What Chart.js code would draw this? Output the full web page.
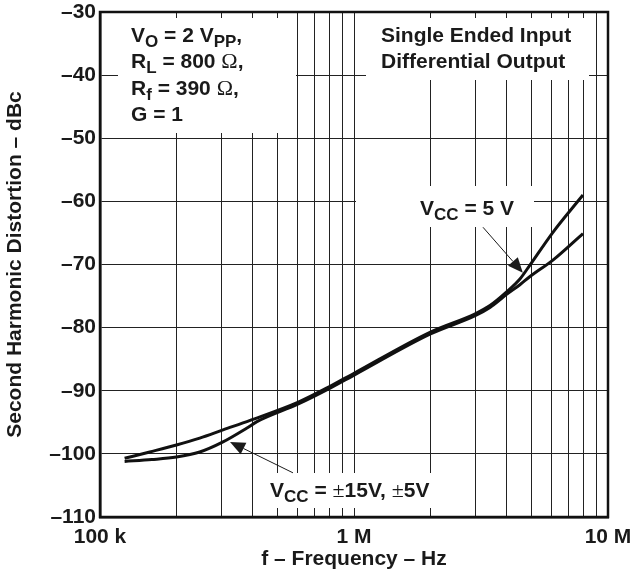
<!DOCTYPE html>
<html>
<head>
<meta charset="utf-8">
<script src="https://cdn.jsdelivr.net/npm/chart.js@4/dist/chart.umd.min.js"></script>
<style>
body{ margin:0; background:#fff; }
#wrap{ width:635px; height:573px; }
</style>
</head>
<body>
<div id="wrap"><canvas id="chart" width="635" height="573"></canvas></div>
<script>

/* DATA */

// VCC = 5 V (upper at low frequency, steeper at the top end)
const freq5 = [125e3, 157e3, 200e3, 247e3, 305e3, 390e3, 604e3, 805e3, 993e3, 2.0e6, 3.0e6, 3.43e6, 4.0e6, 4.5e6, 4.85e6, 6.07e6, 7.97e6];
const db5   = [-100.7, -99.7, -98.6, -97.5, -96.2, -94.7, -91.8, -89.3, -87.3, -80.7, -77.8, -76.5, -74.3, -72.3, -70.5, -64.9, -59.0];

// VCC = ±15 V, ±5 V
const freq15 = [125e3, 160e3, 200e3, 247e3, 305e3, 379e3, 415e3, 604e3, 805e3, 993e3, 2.0e6, 3.0e6, 3.43e6, 4.0e6, 4.5e6, 4.93e6, 6.07e6, 7.97e6];
const db15   = [-101.2, -100.9, -100.5, -99.7, -98.1, -95.9, -94.9, -92.1, -89.6, -87.6, -81.0, -78.1, -76.8, -74.7, -73.2, -71.9, -69.3, -65.1];

// axes
const xGrid = [1e5,2e5,3e5,4e5,5e5,6e5,7e5,8e5,9e5,1e6,2e6,3e6,4e6,5e6,6e6,7e6,8e6,9e6,1e7];
const xMajor = [1e5, 1e6, 1e7];
const xTickLabels = ['100 k', '1 M', '10 M'];
const yMin = -110, yMax = -30, yStep = 10;

/* ANNOTATIONS */

const FONT = '"Liberation Sans", Arial, sans-serif';

const boxes = [
    [118, 18, 178, 115],
    [366, 18, 223, 62],
    [356, 186, 178, 41],
    [262, 473, 183, 35]
];

const notes = [
    { x:131, y:41.5, parts:[['V'],['O','s'],[' = 2 V'],['PP','s'],[',']] },
    { x:131, y:68,   parts:[['R'],['L','s'],[' = 800 '],['\u03A9','g'],[',']] },
    { x:131, y:95,   parts:[['R'],['f','s'],[' = 390 '],['\u03A9','g'],[',']] },
    { x:131, y:121,  parts:[['G = 1']] },
    { x:381, y:42,   parts:[['Single Ended Input']] },
    { x:381, y:68,   parts:[['Differential Output']] },
    { x:420, y:215,  parts:[['V'],['CC','s'],[' = 5 V']] },
    { x:270, y:497,  parts:[['V'],['CC','s'],[' = '],['\u00B1','g'],['15V, '],['\u00B1','g'],['5V']] }
];

// arrows in data units: [tailF, tailDb, tipF, tipDb]
const arrows = [
    [3.22e6, -64.1, 4.62e6, -71.3],
    [575e3, -103.0, 325e3, -98.1]
];

function drawRich(ctx, x, y, parts){
    parts.forEach(p => {
        let font = 'bold 21px ' + FONT;
        let dy = 0;
        if(p[1] === 's'){ font = 'bold 17px ' + FONT; dy = 5; }
        if(p[1] === 'g'){ font = '22px "Liberation Serif", serif'; }
        ctx.font = font;
        ctx.fillText(p[0], x, y + dy);
        x += ctx.measureText(p[0]).width;
    });
}

const annotPlugin = {
    id: 'annot',
    beforeDatasetsDraw(chart){
        const ctx = chart.ctx;
        const a = chart.chartArea;
        const xs = chart.scales.x, ys = chart.scales.y;
        ctx.save();

        // frame
        ctx.strokeStyle = '#111';
        ctx.lineWidth = 2.5;
        ctx.strokeRect(a.left, a.top, a.right - a.left, a.bottom - a.top);

        // white label boxes
        ctx.fillStyle = '#fff';
        boxes.forEach(b => ctx.fillRect(b[0], b[1], b[2], b[3]));

        // text
        ctx.fillStyle = '#1a1a1a';
        ctx.textAlign = 'left';
        ctx.textBaseline = 'alphabetic';
        notes.forEach(n => drawRich(ctx, n.x, n.y, n.parts));

        // arrows
        arrows.forEach(ar => {
            const x0 = xs.getPixelForValue(ar[0]), y0 = ys.getPixelForValue(ar[1]);
            const x1 = xs.getPixelForValue(ar[2]), y1 = ys.getPixelForValue(ar[3]);
            const ang = Math.atan2(y1 - y0, x1 - x0);
            const len = 15, hw = 6.5;
            const bx = x1 - len * Math.cos(ang), by = y1 - len * Math.sin(ang);
            ctx.strokeStyle = '#1a1a1a';
            ctx.lineWidth = 1;
            ctx.beginPath();
            ctx.moveTo(x0, y0);
            ctx.lineTo(bx, by);
            ctx.stroke();
            ctx.beginPath();
            ctx.moveTo(x1, y1);
            ctx.lineTo(bx + hw * Math.sin(ang), by - hw * Math.cos(ang));
            ctx.lineTo(bx - hw * Math.sin(ang), by + hw * Math.cos(ang));
            ctx.closePath();
            ctx.fill();
        });

        ctx.restore();
    }
};

/* CHART */

Chart.defaults.font.family = FONT;
Chart.defaults.font.size = 21;
Chart.defaults.font.weight = 'bold';
Chart.defaults.color = '#1a1a1a';

const toPoints = (xs, ys) => xs.map((f, i) => ({ x: f, y: ys[i] }));

new Chart(document.getElementById('chart'), {
    type: 'line',
    data: {
        datasets: [
            {
                label: 'VCC = 5 V',
                data: toPoints(freq5, db5),
                borderColor: '#111',
                borderWidth: 3,
                pointRadius: 0,
                cubicInterpolationMode: 'monotone',
                fill: false
            },
            {
                label: 'VCC = \u00B115V, \u00B15V',
                data: toPoints(freq15, db15),
                borderColor: '#111',
                borderWidth: 3,
                pointRadius: 0,
                cubicInterpolationMode: 'monotone',
                fill: false
            }
        ]
    },
    options: {
        responsive: false,
        animation: false,
        layout: { padding: { top: 12, right: 27, left: 0, bottom: 0 } },
        plugins: {
            legend: { display: false },
            tooltip: { enabled: false }
        },
        scales: {
            x: {
                type: 'logarithmic',
                min: 1e5,
                max: 1e7,
                afterBuildTicks: axis => {
                    axis.ticks = xGrid.map(v => ({ value: v }));
                },
                afterFit: axis => {
                    axis.height = 56;
                    axis.paddingLeft = 0;
                    axis.paddingRight = 0;
                },
                ticks: {
                    autoSkip: false,
                    maxRotation: 0,
                    padding: 8,
                    callback: v => {
                        const i = xMajor.indexOf(v);
                        return i >= 0 ? xTickLabels[i] : '';
                    }
                },
                grid: { color: '#222', lineWidth: 1, drawTicks: false },
                border: { color: '#111', width: 2.5 },
                title: {
                    display: true,
                    text: 'f \u2013 Frequency \u2013 Hz',
                    padding: { top: 0, bottom: 1 }
                }
            },
            y: {
                min: yMin,
                max: yMax,
                afterFit: axis => {
                    axis.width = 100;
                    axis.paddingTop = 0;
                    axis.paddingBottom = 0;
                },
                ticks: {
                    stepSize: yStep,
                    padding: 4,
                    callback: v => '\u2013' + Math.abs(v)
                },
                grid: { color: '#222', lineWidth: 1, drawTicks: false },
                border: { color: '#111', width: 2.5 },
                title: {
                    display: true,
                    text: 'Second Harmonic Distortion \u2013 dBc',
                    padding: { top: 3, bottom: 0 }
                }
            }
        }
    },
    plugins: [annotPlugin]
});

</script>
</body>
</html>
